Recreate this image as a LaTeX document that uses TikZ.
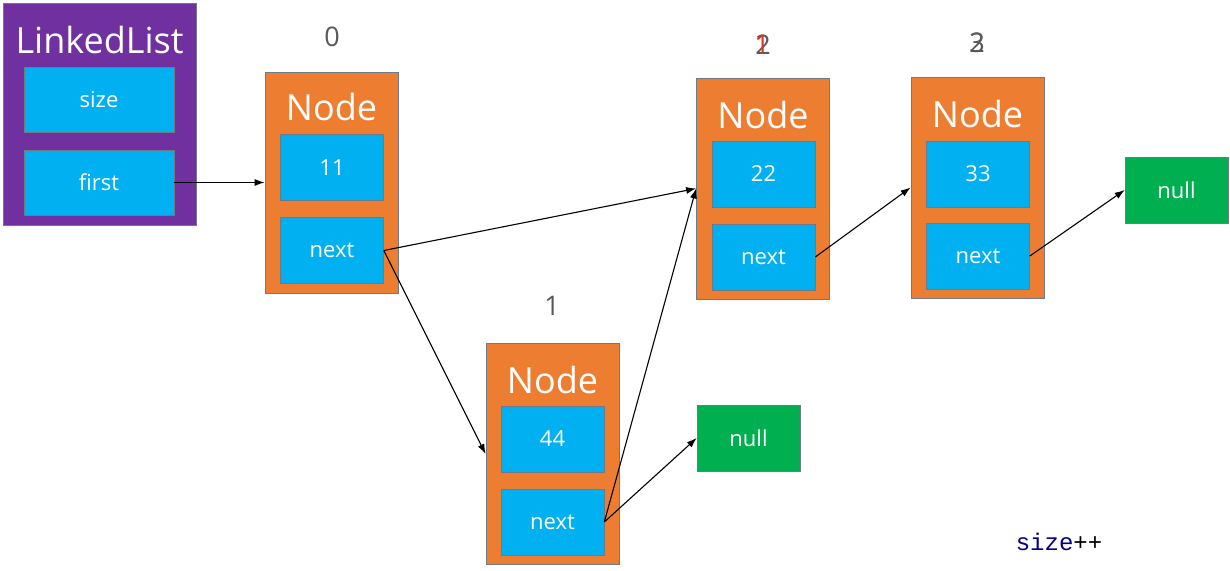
\documentclass[tikz,border=0pt]{standalone}
\usepackage{fontspec}
\setmainfont{Open Sans}
\setmonofont{Liberation Mono}
\usetikzlibrary{arrows.meta,positioning}
\definecolor{purp}{HTML}{7030A0}
\definecolor{orng}{HTML}{ED7D31}
\definecolor{cell}{HTML}{00B0F0}
\definecolor{nul}{HTML}{00B050}
\definecolor{edge}{HTML}{6C7A89}
\definecolor{idx}{HTML}{595959}
\definecolor{idxred}{HTML}{E0301E}
\definecolor{kw}{HTML}{00008B}
\tikzset{
  list/.style={fill=purp, draw=edge, line width=0.8pt, minimum width=193pt, minimum height=222pt, inner sep=0pt},
  nodebox/.style={fill=orng, draw=edge, line width=0.8pt, minimum width=133pt, minimum height=221pt, inner sep=0pt},
  field/.style={fill=cell, draw=edge, line width=0.6pt, minimum width=103pt, minimum height=66pt, inner sep=0pt, text=white, font=\fontsize{22}{25}\selectfont},
  nullbox/.style={field, fill=nul},
  head/.style={text=white, inner sep=0pt, font=\fontsize{36}{40}\selectfont},
  idxlab/.style={text=idx, inner sep=0pt, font=\fontsize{27}{30}\selectfont},
  arr/.style={draw=black, line width=1.1pt, -{Latex[length=10pt,width=7pt]}},
}
\begin{document}
\begin{tikzpicture}[x=1pt, y=-1pt]
\useasboundingbox[fill=white] (0,0) rectangle (1230,570);
\node[list] (ll) at (99.5,114) {};
\node[head] (ll-title) at (99.5,40) {LinkedList};
\node[field, minimum width=150pt, minimum height=65pt] (ll-size) at (99,99.5) {size};
\node[field, minimum width=150pt, minimum height=65pt] (ll-first) at (99,182.5) {first};

\node[nodebox] (n0) at (331.5,182.5) {};
\node[head] (n0-title) at (331.5,107) {Node};
\node[field] (n0-val) at (332,167.5) {11};
\node[field] (n0-next) at (332,250.5) {next};

\node[nodebox] (n1) at (552.5,454) {};
\node[head] (n1-title) at (552.5,380) {Node};
\node[field] (n1-val) at (552.5,439) {44};
\node[field] (n1-next) at (552.5,522) {next};

\node[nodebox] (n2) at (763,188.5) {};
\node[head] (n2-title) at (763,115) {Node};
\node[field] (n2-val) at (763.5,174) {22};
\node[field] (n2-next) at (763.5,257) {next};

\node[nodebox] (n3) at (977.5,187.5) {};
\node[head] (n3-title) at (977.5,114) {Node};
\node[field] (n3-val) at (978,174) {33};
\node[field] (n3-next) at (978,256) {next};

\node[nullbox] (null1) at (1176.5,190) {null};
\node[nullbox] (null2) at (748.5,438) {null};

\node[idxlab] (idx0) at (332,37) {0};
\node[idxlab] (idx1) at (552,306) {1};
\node[idxlab] (idx2) at (763,45) {2};
\node[idxlab, text=idxred] (idx2-old) at (762,45) {1};
\node[idxlab] (idx3-old) at (977,43) {2};
\node[idxlab] (idx3) at (977,43) {3};

\node[inner sep=0pt, font=\ttfamily\fontsize{24}{28}\selectfont] (inc) at (1059,542) {\textcolor{kw}{size}++};

\draw[arr] (ll-first.east) -- (n0.west);
\draw[arr] (n0-next.east) -- (n2.west);
\draw[arr] (n0-next.east) -- (n1.west);
\draw[arr] (n1-next.east) -- (n2.west);
\draw[arr] (n1-next.east) -- (null2.west);
\draw[arr] (n2-next.east) -- (n3.west);
\draw[arr] (n3-next.east) -- (null1.west);
\end{tikzpicture}
\end{document}
